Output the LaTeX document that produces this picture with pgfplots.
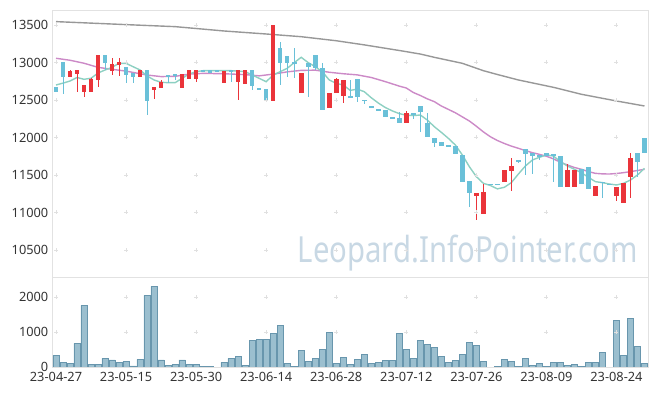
\documentclass[border=0pt]{standalone}
\usepackage{fontspec}
\setmainfont{Noto Sans}
\usepackage{graphicx}
\usepackage{pgfplots}
\usepackage{pgfplotstable}
\pgfplotsset{compat=1.18}

\definecolor{redc}{RGB}{234,52,58}
\definecolor{bluec}{RGB}{106,192,216}
\definecolor{tealc}{RGB}{141,208,194}
\definecolor{pinkc}{RGB}{204,138,199}
\definecolor{grayc}{RGB}{152,152,152}
\definecolor{volfill}{RGB}{155,191,207}
\definecolor{voledge}{RGB}{104,150,173}
\definecolor{framec}{RGB}{226,226,226}
\definecolor{gridc}{RGB}{224,224,224}
\definecolor{textc}{RGB}{51,51,51}
\definecolor{wmc}{RGB}{200,216,228}

% up candles (red): index open high low close
\pgfplotstableread{
i o h l c
2 12810 12900 12810 12880
3 12850 12900 12600 12900
4 12610 12700 12545 12700
5 12610 12790 12610 12780
6 12770 13100 12680 13100
8 12890 13065 12835 12980
9 12970 13055 12820 13000
12 12810 12900 12810 12900
14 12635 12670 12510 12670
15 12665 12765 12665 12740
18 12665 12850 12665 12845
19 12780 12900 12780 12900
20 12780 12900 12735 12900
24 12731 12887 12731 12887
26 12744 12900 12500 12900
27 12718 12900 12718 12900
31 12490 13500 12490 13500
35 12598 12864 12598 12864
39 12398 12589 12398 12589
40 12598 12790 12598 12780
41 12553 12767 12465 12767
50 12198 12353 12198 12331
60 11224 11264 10900 11264
61 10980 11380 10980 11273
64 11411 11567 11411 11567
65 11558 11722 11287 11620
73 11344 11642 11344 11567
74 11344 11567 11344 11567
77 11220 11353 11220 11353
80 11224 11336 11158 11336
81 11131 11389 11131 11389
82 11469 11789 11189 11722
}\upc

% down candles (blue)
\pgfplotstableread{
i o h l c
0 12670 12670 12610 12610
1 13000 13000 12580 12810
7 13100 13100 12900 12990
10 12945 12945 12730 12835
11 12855 12855 12730 12810
13 12900 12900 12300 12480
16 12830 12830 12730 12810
17 12845 12850 12770 12830
21 12900 12900 12880 12880
22 12900 12900 12864 12864
23 12900 12900 12880 12880
25 12900 12900 12744 12880
28 12900 12900 12633 12691
29 12655 12655 12635 12635
30 12651 12651 12500 12500
32 13198 13273 12700 12989
33 13087 13087 12802 12989
34 13000 13189 12789 12980
36 12989 12989 12536 12944
37 13100 13100 12900 12920
38 12920 12990 12367 12370
42 12553 12767 12530 12530
43 12780 12780 12478 12536
44 12505 12505 12445 12485
45 12420 12420 12390 12400
46 12382 12382 12357 12357
47 12365 12365 12278 12278
48 12275 12275 12253 12253
49 12262 12344 12198 12198
51 12331 12331 12245 12302
52 12420 12420 12078 12340
53 12198 12331 12011 12011
54 11995 11995 11878 11931
55 11944 11944 11887 11887
56 11900 11900 11878 11878
57 11887 11887 11780 11780
58 11767 11767 11411 11411
59 11420 11420 11078 11264
62 11385 11385 11365 11365
63 11385 11385 11365 11365
66 11705 11705 11660 11680
67 11847 11847 11500 11780
68 11789 11789 11509 11758
69 11767 11767 11700 11736
70 11798 11798 11758 11758
71 11780 11780 11411 11753
72 11753 11753 11344 11344
75 11576 11576 11380 11380
76 11611 11611 11313 11313
78 11411 11411 11189 11389
79 11385 11385 11365 11365
83 11789 11789 11478 11678
84 11989 11989 11798 11798
}\downc

\pgfplotstableread{
i v
0 333
1 133
2 105
3 676
4 1762
5 76
6 76
7 248
8 200
9 133
10 162
11 29
12 219
13 2048
14 2305
15 200
16 48
17 76
18 200
19 76
20 76
21 19
22 19
24 133
25 248
26 305
27 48
28 762
29 790
30 790
31 962
32 1190
33 105
34 19
35 476
36 162
37 248
38 505
39 990
40 105
41 276
42 76
43 219
44 362
45 105
46 133
47 190
48 190
49 962
50 505
51 248
52 762
53 648
54 562
55 305
56 133
57 190
58 362
59 705
60 619
61 162
63 19
64 219
65 162
66 19
67 248
68 48
69 105
70 19
71 133
72 133
73 48
74 76
75 20
76 133
77 133
78 419
80 1333
81 333
82 1390
83 590
84 105
}\vol

\pgfplotstableread{
i v
0 12700
1 12725
2 12753
3 12800
4 12776
5 12790
6 12860
7 12900
8 12936
9 12989
10 12989
11 12944
12 12900
13 12820
14 12767
15 12736
16 12731
17 12731
18 12789
19 12847
20 12878
21 12891
22 12891
23 12891
24 12891
25 12891
26 12885
27 12878
28 12833
29 12789
30 12744
31 12833
32 12878
33 12922
34 12998
35 13069
36 12998
37 12944
38 12878
39 12767
40 12722
41 12700
42 12628
43 12645
44 12611
45 12530
46 12460
47 12400
48 12355
49 12318
50 12298
51 12292
52 12300
53 12233
54 12144
55 12069
56 11989
57 11900
58 11767
59 11611
60 11478
61 11389
62 11360
63 11315
64 11336
65 11398
66 11513
67 11620
68 11700
69 11736
70 11767
71 11753
72 11678
73 11620
74 11576
75 11531
76 11469
77 11411
78 11398
79 11380
80 11367
81 11389
82 11433
83 11500
84 11589
}\maA

\pgfplotstableread{
i v
0 13056
2 13030
4 12990
6 12935
8 12909
10 12885
13 12833
15 12812
17 12815
19 12845
21 12855
24 12850
27 12838
29 12822
31 12845
33 12875
35 12895
37 12898
39 12870
41 12850
43 12835
45 12800
47 12745
49 12685
50 12660
51 12600
52 12560
53 12515
54 12478
55 12420
56 12375
57 12330
58 12275
59 12220
60 12150
61 12075
62 12010
63 11960
64 11920
65 11885
66 11856
67 11825
68 11798
69 11775
70 11750
71 11715
72 11670
73 11633
74 11600
75 11576
76 11545
77 11522
78 11515
79 11513
80 11520
81 11531
82 11545
83 11560
84 11576
}\maB

\pgfplotstableread{
i v
0 13545
5 13525
10 13505
17 13478
21 13445
24 13420
30 13380
35 13344
40 13290
44 13235
49 13160
52 13113
54 13069
58 12989
61 12891
63 12840
66 12767
71 12669
75 12576
80 12487
84 12420
}\maC

\pgfplotsset{
  lbl/.style={font=\fontsize{12.8}{15}\selectfont, text=textc, inner sep=0pt},
  candle/.style 2 args={draw=none, mark=none, forget plot,
    error bars/.cd, y dir=both, y explicit, error mark=none,
    error bar style={draw=#1, line width=#2, solid}},
}

\begin{document}
\begin{tikzpicture}
\useasboundingbox (0,0) rectangle (657pt,396pt);
\node[anchor=base east, text=wmc, inner sep=0pt] at (638pt,133pt)
  {\resizebox{340pt}{27.5pt}{Leopard.InfoPointer.com}};

\begin{axis}[
  at={(52.5pt,386pt)}, anchor=north west,
  scale only axis, width=595.5pt, height=267pt,
  xmin=-0.5, xmax=84.5, ymin=10140, ymax=13700,
  scaled x ticks=false, scaled y ticks=false,
  axis x line*=top, axis y line*=box,
  axis line style={draw=framec, line width=0.8pt},
  xtick=\empty,
  ytick={10500,11000,11500,12000,12500,13000,13500},
  yticklabels={10500,11000,11500,12000,12500,13000,13500},
  major tick length=0pt,
  yticklabel style={lbl, anchor=east, xshift=-4pt},
]
\addplot[only marks, mark=+, mark size=2pt, color=gridc, mark options={line width=0.8pt}] coordinates {
(0,10500)(10,10500)(20,10500)(30,10500)(40,10500)(50,10500)(60,10500)(70,10500)(80,10500)
(0,11000)(10,11000)(20,11000)(30,11000)(40,11000)(50,11000)(60,11000)(70,11000)(80,11000)
(0,11500)(10,11500)(20,11500)(30,11500)(40,11500)(50,11500)(60,11500)(70,11500)(80,11500)
(0,12000)(10,12000)(20,12000)(30,12000)(40,12000)(50,12000)(60,12000)(70,12000)(80,12000)
(0,12500)(10,12500)(20,12500)(30,12500)(40,12500)(50,12500)(60,12500)(70,12500)(80,12500)
(0,13000)(10,13000)(20,13000)(30,13000)(40,13000)(50,13000)(60,13000)(70,13000)(80,13000)
(0,13500)(10,13500)(20,13500)(30,13500)(40,13500)(50,13500)(60,13500)(70,13500)(80,13500)
};
\addplot[grayc, line width=1.4pt, mark=none] table[x=i,y=v] {\maC};
\addplot[pinkc, line width=1.4pt, mark=none] table[x=i,y=v] {\maB};
\addplot[tealc, line width=1.4pt, mark=none] table[x=i,y=v] {\maA};
% wicks
\addplot[candle={redc}{1pt}]
  table[x=i, y expr={(\thisrow{h}+\thisrow{l})/2}, y error expr={(\thisrow{h}-\thisrow{l})/2}] {\upc};
\addplot[candle={bluec}{1pt}]
  table[x=i, y expr={(\thisrow{h}+\thisrow{l})/2}, y error expr={(\thisrow{h}-\thisrow{l})/2}] {\downc};
% bodies
\addplot[candle={redc}{4.6pt}]
  table[x=i, y expr={(\thisrow{o}+\thisrow{c})/2}, y error expr={abs(\thisrow{c}-\thisrow{o})/2}] {\upc};
\addplot[candle={bluec}{4.6pt}]
  table[x=i, y expr={(\thisrow{o}+\thisrow{c})/2}, y error expr={abs(\thisrow{c}-\thisrow{o})/2}] {\downc};
\end{axis}

\begin{axis}[
  at={(52.5pt,119pt)}, anchor=north west,
  scale only axis, width=595.5pt, height=90pt,
  xmin=-0.5, xmax=84.5, ymin=0, ymax=2570,
  scaled x ticks=false, scaled y ticks=false,
  axis line style={draw=framec, line width=0.8pt},
  xtick={0,10,20,30,40,50,60,70,80},
  xticklabels={23-04-27,23-05-15,23-05-30,23-06-14,23-06-28,23-07-12,23-07-26,23-08-09,23-08-24},
  ytick={0,1000,2000},
  yticklabels={0,1000,2000},
  major tick length=0pt,
  yticklabel style={lbl, anchor=east, xshift=-4pt},
  xticklabel style={lbl, anchor=north, yshift=-5pt},
]
\addplot[only marks, mark=+, mark size=2pt, color=gridc, mark options={line width=0.8pt}] coordinates {
(0,1000)(10,1000)(20,1000)(30,1000)(40,1000)(50,1000)(60,1000)(70,1000)(80,1000)
(0,2000)(10,2000)(20,2000)(30,2000)(40,2000)(50,2000)(60,2000)(70,2000)(80,2000)
};
\addplot[ybar, bar width=6.3pt, bar shift=0pt, fill=volfill, draw=voledge, line width=0.7pt] table[x=i,y=v] {\vol};
\end{axis}
\end{tikzpicture}
\end{document}
